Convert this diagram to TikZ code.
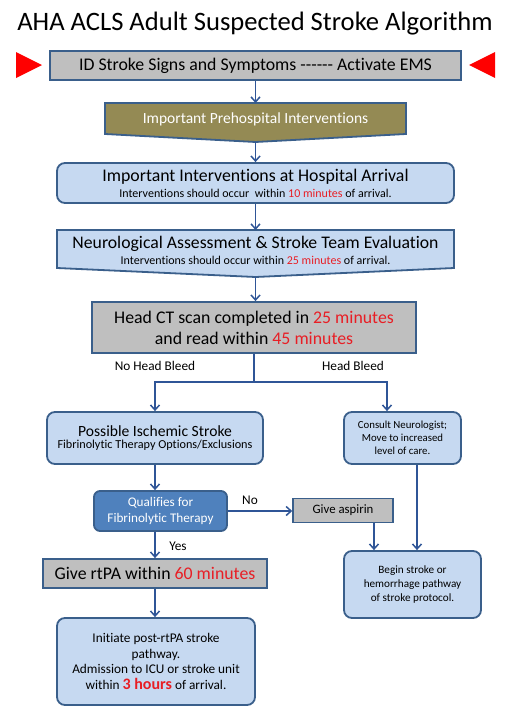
\documentclass[tikz,border=0pt]{standalone}
\usepackage{fontspec}
\setmainfont{Carlito}[Ligatures={NoCommon}]
\usetikzlibrary{arrows.meta}
\definecolor{borde}{HTML}{3A5F8B}
\definecolor{azulclaro}{HTML}{C6D9F1}
\definecolor{azul}{HTML}{4F81BD}
\definecolor{gris}{HTML}{BFBFBF}
\definecolor{oliva}{HTML}{948A54}
\definecolor{rojo}{HTML}{E81E25}
\definecolor{flechaazul}{HTML}{2F5597}
\tikzset{
  caja/.style={draw=borde, line width=1.8pt, align=center, inner sep=0pt},
  cajagris/.style={caja, fill=gris},
  cajaazul/.style={caja, fill=azulclaro, rounded corners=8pt},
  cajaqual/.style={caja, fill=azul, text=white, rounded corners=6pt},
  flecha/.style={draw=flechaazul, line width=1.5pt, -{Straight Barb[length=5pt,width=9pt]}},
  rotulo/.style={font=\fontsize{13.3}{15}\selectfont},
}
\newcommand{\rj}[1]{\textcolor{rojo}{#1}}
\newcommand{\guiones}{\mbox{-}\mbox{-}\mbox{-}\mbox{-}\mbox{-}\mbox{-}}
\begin{document}
\begin{tikzpicture}[x=1pt,y=-1pt]
\useasboundingbox[fill=white] (0,0) rectangle (522,728);
% Titulo
\node[font=\fontsize{26.6}{30}\selectfont] (titulo) at (255,24) {AHA ACLS Adult Suspected Stroke Algorithm};
% Triangulos
\fill[red] (16,52) -- (42,65) -- (16,78) -- cycle;
\fill[red] (495,52) -- (469,65) -- (495,78) -- cycle;
% Reconocimiento
\node[cajagris, minimum width=411pt, minimum height=29pt, font=\fontsize{17.8}{20}\selectfont] (id) at (255.5,65.5) {ID Stroke Signs and Symptoms \guiones\ Activate EMS};
% Prehospitalario
\filldraw[fill=oliva, draw=borde, line width=1.8pt] (105,103) -- (406,103) -- (406,134) -- (255.5,142) -- (105,134) -- cycle;
\node[text=white, font=\fontsize{15.5}{18}\selectfont] (pre) at (255.5,119) {Important Prehospital Interventions};
\coordinate (pre punta) at (255.5,142);
% Llegada al hospital
\node[cajaazul, minimum width=397pt, minimum height=40pt] (hosp) at (255.5,183)
  {{\fontsize{17.8}{20}\selectfont Important Interventions at Hospital Arrival}\\[4pt]
   {\fontsize{12}{13}\selectfont Interventions should occur\ \ within \rj{10 minutes} of arrival.}};
% Evaluacion neurologica
\filldraw[fill=azulclaro, draw=borde, line width=1.8pt] (57,230) -- (454,230) -- (454,268) -- (255.5,277) -- (57,268) -- cycle;
\node[align=center] (neuro) at (255.5,250)
  {{\fontsize{17.7}{20}\selectfont Neurological Assessment \& Stroke Team Evaluation}\\[4pt]
   {\fontsize{12}{13}\selectfont Interventions should occur within \rj{25 minutes} of arrival.}};
\coordinate (neuro punta) at (255.5,277);
% TAC
\node[cajagris, minimum width=324pt, minimum height=51pt, font=\fontsize{17.8}{21}\selectfont] (tac) at (254,327.5)
  {Head CT scan completed in \rj{25 minutes}\\and read within \rj{45 minutes}};
% Ramas
\node[cajaazul, minimum width=216pt, minimum height=52pt] (isq) at (155,438)
  {{\fontsize{15.6}{18}\selectfont Possible Ischemic Stroke}\\
   {\fontsize{12.2}{14}\selectfont Fibrinolytic Therapy Options/Exclusions}};
\node[cajaazul, minimum width=117pt, minimum height=52pt, font=\fontsize{10.8}{13}\selectfont] (cons) at (402.5,438)
  {Consult Neurologist;\\Move to increased\\level of care.};
\node[rotulo] (sin) at (155,366) {No Head Bleed};
\node[rotulo] (con) at (353,366) {Head Bleed};
\coordinate (rama) at (254,382);
% Decision
\node[cajaqual, minimum width=133pt, minimum height=40pt, font=\fontsize{13.2}{15.5}\selectfont] (qual) at (160.5,511)
  {Qualifies for\\Fibrinolytic Therapy};
\node[cajagris, line width=1.5pt, minimum width=100pt, minimum height=24pt, font=\fontsize{12.8}{14}\selectfont] (asp) at (343,510.5) {Give aspirin};
\node[rotulo] (no) at (250,500) {No};
\node[rotulo] (si) at (178,546) {Yes};
\node[cajaazul, minimum width=137pt, minimum height=67pt, font=\fontsize{11.2}{14}\selectfont] (prot) at (412.5,584.5)
  {Begin stroke or\\hemorrhage pathway\\of stroke protocol.};
% rtPA
\node[cajagris, minimum width=224pt, minimum height=29pt, font=\fontsize{17.8}{20}\selectfont] (rtpa) at (155,573.5)
  {Give rtPA within \rj{60 minutes}};
\node[cajaazul, minimum width=198pt, minimum height=87pt, font=\fontsize{13.3}{15.5}\selectfont] (post) at (156,661.5)
  {Initiate post-rtPA stroke\\pathway.\\Admission to ICU or stroke unit\\within {\fontsize{16}{15.5}\selectfont\bfseries\rj{3 hours}} of arrival.};
% Flechas
\draw[flecha] (id.south) -- (255.5,103);
\draw[flecha] (pre punta) -- (hosp.north);
\draw[flecha] (hosp.south) -- (255.5,230);
\draw[flecha] (neuro punta) -- (neuro punta |- tac.north);
\draw[draw=flechaazul, line width=1.5pt] (tac.south) -- (rama);
\draw[flecha] (rama) -| (isq.north);
\draw[flecha] (rama) -| ([xshift=-15.5pt]cons.north);
\draw[flecha] (isq.south) -- (isq.south |- qual.north);
\draw[flecha] (qual.east) -- (qual.east -| asp.west);
\draw[flecha] (rtpa.north |- qual.south) -- (rtpa.north);
\draw[flecha] ([xshift=31pt]asp.south) -- ([xshift=31pt]asp.south |- prot.north);
\draw[flecha] ([xshift=14.5pt]cons.south) -- ([xshift=14.5pt]cons.south |- prot.north);
\draw[flecha] (rtpa.south) -- (rtpa.south |- post.north);
\end{tikzpicture}
\end{document}
